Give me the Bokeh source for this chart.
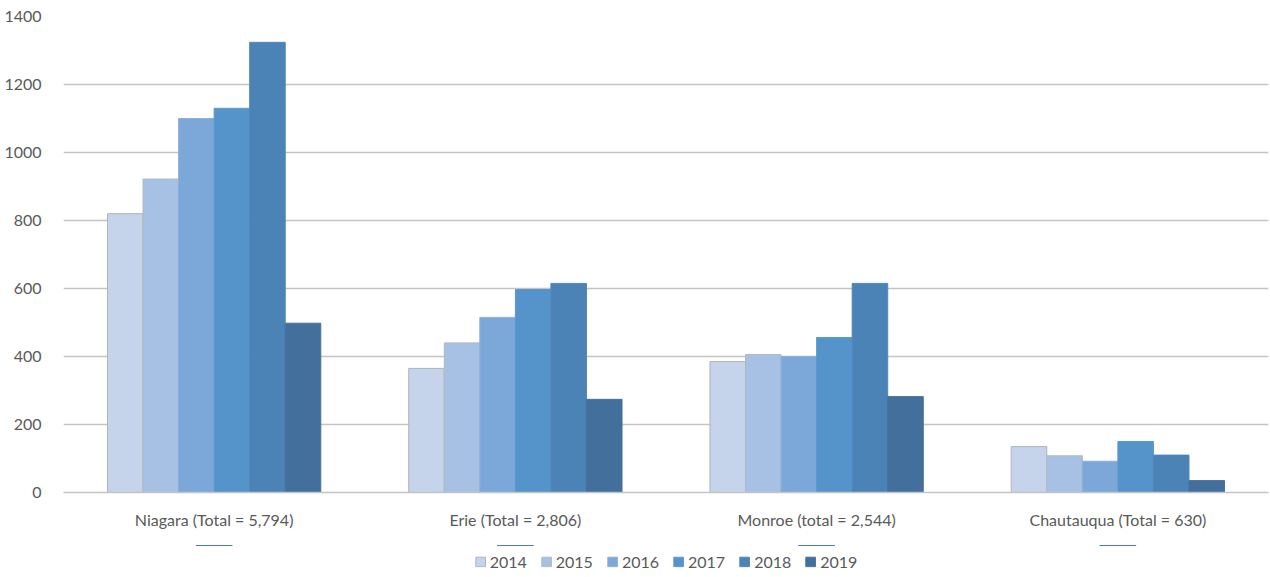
from bokeh.plotting import figure
from bokeh.layouts import column
from bokeh.models import FactorRange, Range1d, Legend, LegendItem, ColumnDataSource, FixedTicker
from bokeh.transform import dodge
from bokeh.embed import file_html
from bokeh.resources import INLINE

counties = ["Niagara (Total = 5,794)", "Erie (Total = 2,806)",
            "Monroe (total = 2,544)", "Chautauqua (Total = 630)"]
years = ["2014", "2015", "2016", "2017", "2018", "2019"]
v2014 = [820, 365, 385, 135]
v2015 = [922, 440, 406, 108]
v2016 = [1100, 515, 400, 92]
v2017 = [1130, 597, 456, 150]
v2018 = [1324, 615, 615, 110]
v2019 = [498, 274, 282, 35]
y_ticks = [0, 200, 400, 600, 800, 1000, 1200, 1400]

series = [v2014, v2015, v2016, v2017, v2018, v2019]
colors = ["#C5D4EA", "#A6C1E4", "#7BA8D8", "#5594CB", "#4C83B6", "#426F9C"]
edges = ["#AEB3BA", "#B0B8C4", "#8FAFD6", "#5C98CC", "#5087B8", "#46729E"]

data = {"county": counties}
for y, s in zip(years, series):
    data["y" + y] = s
src = ColumnDataSource(data)

FONT = "Lato"
p = figure(width=1270, height=545, x_range=FactorRange(factors=counties),
           y_range=Range1d(0, 1400), output_backend="svg", toolbar_location=None,
           min_border_left=63, min_border_right=2, min_border_top=16, min_border_bottom=53)

bw = 0.118
for i, y in enumerate(years):
    p.vbar(x=dodge("county", (i - 2.5) * bw, range=p.x_range), top="y" + y,
           width=bw, source=src, fill_color=colors[i],
           line_color=edges[i], line_width=1)

p.outline_line_color = None
p.xgrid.grid_line_color = None
p.ygrid.grid_line_color = "#C4C4C4"
p.ygrid.grid_line_width = 1.5
p.yaxis.ticker = FixedTicker(ticks=y_ticks)
p.yaxis.axis_line_color = None
p.yaxis.major_tick_line_color = None
p.yaxis.minor_tick_line_color = None
p.yaxis.major_label_standoff = 16
p.xaxis.axis_line_color = "#C4C4C4"
p.xaxis.axis_line_width = 1.5
p.xaxis.major_tick_line_color = None
p.xaxis.major_tick_out = 0
p.xaxis.major_label_standoff = 17
for ax in (p.xaxis[0], p.yaxis[0]):
    ax.major_label_text_font = FONT
    ax.major_label_text_font_size = "16px"
    ax.major_label_text_color = "#595959"

# legend strip below the chart (its bars lie far outside its visible y range)
lg = figure(width=1270, height=32, output_backend="svg", toolbar_location=None,
            x_range=FactorRange(factors=counties), y_range=Range1d(-3000, -2999),
            min_border_left=20, min_border_right=0, min_border_top=0, min_border_bottom=0)
lg.axis.visible = False
lg.grid.visible = False
lg.outline_line_color = None
items = []
for i, y in enumerate(years):
    r = lg.vbar(x="county", top="y" + y, width=bw, source=src,
                fill_color=colors[i], line_color=edges[i], line_width=1)
    items.append(LegendItem(label=y, renderers=[r]))
legend = Legend(items=items, orientation="horizontal", location="center",
                border_line_color=None, background_fill_alpha=0,
                label_text_font=FONT, label_text_font_size="16px",
                label_text_color="#595959", glyph_width=12, glyph_height=12,
                spacing=13, label_standoff=4, margin=0, padding=2)
lg.add_layout(legend, "center")

layout = column(p, lg, spacing=0)
open("out.html", "w").write(file_html(layout, INLINE))
